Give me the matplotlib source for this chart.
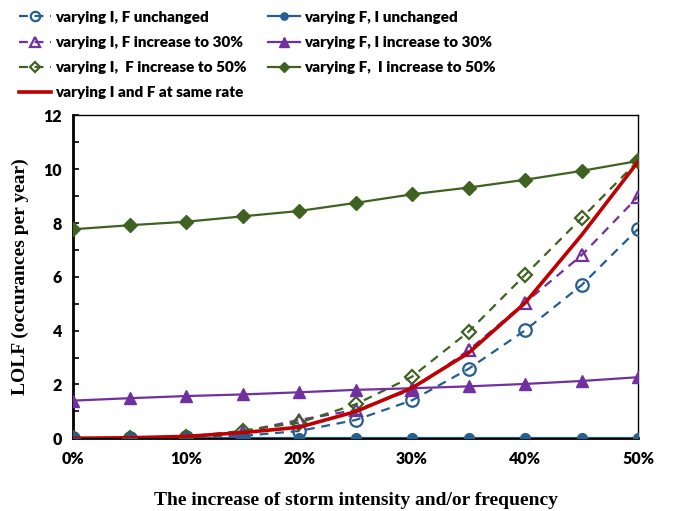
import numpy as np
import matplotlib
matplotlib.use("Agg")
import matplotlib.pyplot as plt
from matplotlib.ticker import MultipleLocator, FuncFormatter

# storm intensity / frequency increase (%)
increase = [0, 5, 10, 15, 20, 25, 30, 35, 40, 45, 50]

# LOLF (occurances per year)
i_unchanged_f = [0, 0.01, 0.03, 0.09, 0.27, 0.68, 1.41, 2.58, 4.01, 5.69, 7.78]
i_f_30 = [0, 0.01, 0.04, 0.25, 0.68, 1.05, 1.80, 3.27, 5.04, 6.80, 8.98]
i_f_50 = [0, 0.01, 0.05, 0.28, 0.58, 1.26, 2.29, 3.96, 6.07, 8.18, 10.31]
f_unchanged_i = [0, 0, 0, 0, 0, 0, 0, 0, 0, 0, 0]
f_i_30 = [1.40, 1.49, 1.57, 1.63, 1.71, 1.80, 1.86, 1.93, 2.02, 2.13, 2.27]
f_i_50 = [7.77, 7.92, 8.05, 8.25, 8.45, 8.75, 9.07, 9.32, 9.61, 9.94, 10.31]
same_rate = [0, 0.02, 0.07, 0.21, 0.41, 0.99, 1.87, 3.17, 5.03, 7.55, 10.28]

labels = ["varying I, F unchanged", "varying I, F increase to 30%",
          "varying I,  F increase to 50%", "varying I and F at same rate",
          "varying F, I unchanged", "varying F, I increase to 30%",
          "varying F,  I increase to 50%"]

blue = "#255e91"
purple = "#7030a0"
green = "#3f6222"
red = "#c00000"

fig = plt.figure(figsize=(6.73, 5.11), dpi=100)
ax = fig.add_axes([0.1085, 0.1423, 0.8395, 0.6317])

dash = dict(linestyle=(0, (4, 3)), linewidth=1.6, markersize=9,
            markerfacecolor="none", markeredgewidth=1.6)
h1, = ax.plot(increase, i_unchanged_f, color=blue, marker="o", **dash)
h2, = ax.plot(increase, i_f_30, color=purple, marker="^", **dash)
h3, = ax.plot(increase, i_f_50, color=green, marker="D",
              linestyle=(0, (4, 3)), linewidth=1.6, markersize=7,
              markerfacecolor="none", markeredgewidth=1.6)
h5, = ax.plot(increase, f_unchanged_i, color=blue, marker="o",
              linewidth=1.6, markersize=7)
h6, = ax.plot(increase, f_i_30, color=purple, marker="^",
              linewidth=1.6, markersize=9)
h7, = ax.plot(increase, f_i_50, color=green, marker="D",
              linewidth=1.6, markersize=7)
h4, = ax.plot(increase, same_rate, color=red, linewidth=2.6, zorder=5)

ax.set_xlim(0, 50)
ax.set_ylim(0, 12)
ax.set_xticks([0, 10, 20, 30, 40, 50])
ax.xaxis.set_major_formatter(FuncFormatter(lambda v, p: "%d%%" % v))
ax.yaxis.set_major_locator(MultipleLocator(2))
ax.yaxis.set_minor_locator(MultipleLocator(1))
ax.tick_params(axis="x", length=0, pad=9)
ax.tick_params(axis="y", which="both", direction="in", length=4, width=1.2, pad=8)
for lab in ax.get_xticklabels() + ax.get_yticklabels():
    lab.set_fontfamily("Lato")
    lab.set_fontweight("heavy")
    lab.set_fontsize(11.5)

ax.spines["left"].set_linewidth(2)
ax.spines["bottom"].set_linewidth(2)
ax.spines["top"].set_linewidth(1)
ax.spines["right"].set_linewidth(1)
for s in ax.spines.values():
    s.set_color("black")
    s.set_zorder(0.5)
ax.patch.set_visible(False)

ax.set_xlabel("The increase of storm intensity and/or frequency",
              fontfamily="Liberation Serif", fontweight="bold", fontsize=14,
              labelpad=18)
ax.set_ylabel("LOLF (occurances per year)", fontfamily="Liberation Serif",
              fontweight="bold", fontsize=14, labelpad=10)

leg = fig.legend([h1, h2, h3, h4, h5, h6, h7], labels, ncol=2,
                 loc="upper left", bbox_to_anchor=(0.008, 1.006), frameon=False,
                 prop={"family": "Lato", "weight": "heavy", "size": 11},
                 handlelength=2.1, handletextpad=0.25, columnspacing=1.4,
                 labelspacing=0.8, markerscale=0.75)

fig.savefig("out.png", dpi=100)
